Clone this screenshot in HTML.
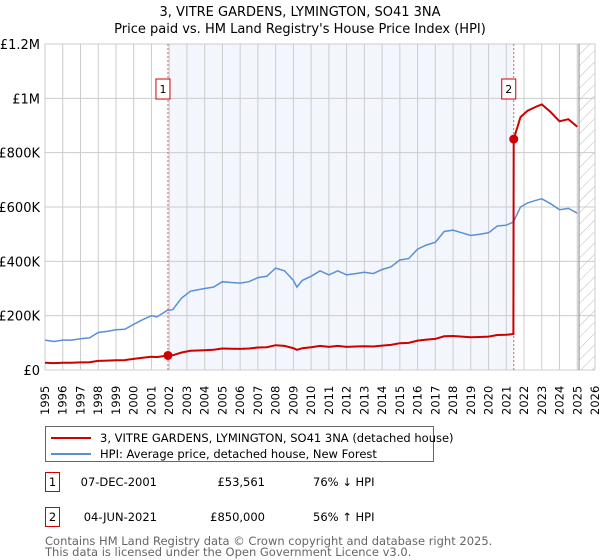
<!DOCTYPE html>
<html><head><meta charset="utf-8"><style>
body{margin:0;background:#fff;font-family:"Liberation Sans","DejaVu Sans",sans-serif;}
#wrap{position:relative;width:600px;height:560px;overflow:hidden}
svg text{font-family:"DejaVu Sans","Liberation Sans",sans-serif}
</style></head><body><div id="wrap">
<svg id="svg" width="600" height="560"></svg>
</div>
<script>
const hpiYears=[1995,1995.5,1996,1996.5,1997,1997.5,1998,1998.5,1999,1999.5,2000,2000.5,2001,2001.3,2001.9,2002.2,2002.7,2003.2,2004,2004.5,2005,2005.5,2006,2006.5,2007,2007.5,2008,2008.5,2009,2009.2,2009.5,2010,2010.5,2011,2011.5,2012,2012.5,2013,2013.5,2014,2014.5,2015,2015.5,2016,2016.5,2017,2017.5,2018,2018.5,2019,2019.5,2020,2020.5,2021,2021.4,2021.8,2022.2,2022.7,2023,2023.5,2024,2024.5,2025];
const hpiValues=[110,105,110,110,115,118,138,142,148,150,168,185,200,195,220,222,265,290,300,305,325,322,320,325,340,345,375,365,330,305,330,345,365,350,365,350,355,360,355,370,380,405,410,445,460,470,510,515,505,495,500,505,530,533,545,600,615,625,630,612,590,595,577];
const saleYears=[2001.93,2021.42];
const salePrices=[53561,850000];
const saleLabels=["1","2"];
const yTicks=[0,200000,400000,600000,800000,1000000,1200000];
const yTickLabels=["£0","£200K","£400K","£600K","£800K","£1M","£1.2M"];
const xTicks=[1995,1996,1997,1998,1999,2000,2001,2002,2003,2004,2005,2006,2007,2008,2009,2010,2011,2012,2013,2014,2015,2016,2017,2018,2019,2020,2021,2022,2023,2024,2025,2026];

const svg=document.getElementById('svg');const NS='http://www.w3.org/2000/svg';
const L=45,R=595,T=44,B=370;
const X=y=>L+(y-1995)/(2026-1995)*(R-L);
const Y=v=>B-v/1200000*(B-T);
function el(tag,attrs,parent){const e=document.createElementNS(NS,tag);for(const k in attrs)e.setAttribute(k,attrs[k]);(parent||svg).appendChild(e);return e;}
function hpiAt(t){for(let i=0;i<hpiYears.length-1;i++){if(t>=hpiYears[i]&&t<=hpiYears[i+1]){const f=(t-hpiYears[i])/(hpiYears[i+1]-hpiYears[i]);return (hpiValues[i]+f*(hpiValues[i+1]-hpiValues[i]))*1000;}}return hpiValues[hpiValues.length-1]*1000;}

let t=el('text',{x:300,y:16,'text-anchor':'middle','font-size':13,fill:'#000'});t.textContent='3, VITRE GARDENS, LYMINGTON, SO41 3NA';

t=el('text',{x:300,y:33,'text-anchor':'middle','font-size':13,fill:'#000'});t.textContent='Price paid vs. HM Land Registry\'s House Price Index (HPI)';


let band=el('rect',{x:X(saleYears[0]),y:T,width:X(saleYears[1])-X(saleYears[0]),height:B-T,fill:'#f3f6fd'});

const defs=el('defs',{});const pat=el('pattern',{id:'h',width:8,height:8,patternUnits:'userSpaceOnUse',patternTransform:'rotate(45)'},defs);
el('line',{x1:0,y1:0,x2:0,y2:8,stroke:'#bbb','stroke-width':1},pat);
let hatch=el('rect',{x:X(2025.1),y:T,width:R-X(2025.1),height:B-T,fill:'url(#h)'});

xTicks.forEach(v=>{const g=el('line',{x1:X(v),x2:X(v),y1:T,y2:B,stroke:'#ccc','stroke-width':1});
 const tx=el('text',{transform:`translate(${X(v)+4},${B+45}) rotate(-90)`,'font-size':11.5,fill:'#000'});tx.textContent=v;
 });
yTicks.forEach((v,i)=>{const g=el('line',{x1:L,x2:R,y1:Y(v),y2:Y(v),stroke:'#ccc','stroke-width':1});
 const tx=el('text',{x:L-5,y:Y(v)+5,'text-anchor':'end','font-size':13,fill:'#000'});tx.textContent=yTickLabels[i];
 });
el('line',{x1:X(2025.1),x2:X(2025.1),y1:T,y2:B,stroke:'#888','stroke-width':1});
saleYears.forEach((s,i)=>{const v=el('line',{x1:X(s),x2:X(s),y1:T,y2:B,stroke:'#e06060','stroke-width':1,'stroke-dasharray':'2,2'});
 
 const r=el('rect',{x:X(s)-12,y:79,width:14,height:20,fill:'#fff',stroke:'#c00','stroke-width':1});
 const tx=el('text',{x:X(s)-5,y:93,'text-anchor':'middle','font-size':11,fill:'#000'});tx.textContent=saleLabels[i];});
let d='';hpiYears.forEach((y,i)=>{d+=(i?'L':'M')+X(y).toFixed(1)+','+Y(hpiValues[i]*1000).toFixed(1);});
let p=el('path',{d:d,fill:'none',stroke:'#5b8fd4','stroke-width':1.5});
let pts=[];const r0=salePrices[0]/hpiAt(saleYears[0]),r1=salePrices[1]/hpiAt(saleYears[1]);
hpiYears.forEach((y,i)=>{if(y<saleYears[1])pts.push([y,hpiValues[i]*1000*r0]);});
pts.push([saleYears[1]-0.02,hpiAt(saleYears[1]-0.02)*r0]);pts.push([saleYears[1],salePrices[1]]);
hpiYears.forEach((y,i)=>{if(y>saleYears[1])pts.push([y,hpiValues[i]*1000*r1]);});
d='';pts.forEach((q,i)=>{d+=(i?'L':'M')+X(q[0]).toFixed(1)+','+Y(q[1]).toFixed(1);});
p=el('path',{d:d,fill:'none',stroke:'#cc0000','stroke-width':2});
saleYears.forEach((s,i)=>{const c=el('circle',{cx:X(s),cy:Y(salePrices[i]),r:4.5,fill:'#cc0000'});});
const lg=el('g',{});
el('rect',{x:45.5,y:426.5,width:388,height:35,fill:'#fff',stroke:'#666'},lg);
el('line',{x1:51,x2:91,y1:438,y2:438,stroke:'#cc0000','stroke-width':2},lg);
el('line',{x1:51,x2:91,y1:454,y2:454,stroke:'#5b8fd4','stroke-width':2},lg);
t=el('text',{x:100,y:442,'font-size':11.5},lg);t.textContent='3, VITRE GARDENS, LYMINGTON, SO41 3NA (detached house)';
t=el('text',{x:100,y:458,'font-size':11.5},lg);t.textContent='HPI: Average price, detached house, New Forest';
const rows=[["1","07-DEC-2001","£53,561","76% ↓ HPI"],["2","04-JUN-2021","£850,000","56% ↑ HPI"]];
rows.forEach((r,i)=>{const y=i?517:482;
 const b=el('rect',{x:45.5,y:y-9.5,width:14,height:19,fill:'#fff',stroke:'#c00'});
 let a=el('text',{x:52.5,y:y+4,'text-anchor':'middle','font-size':11.5});a.textContent=r[0];
 a=el('text',{x:157,y:y+4,'text-anchor':'end','font-size':11.5});a.textContent=r[1];
 a=el('text',{x:265,y:y+4,'text-anchor':'end','font-size':11.5});a.textContent=r[2];
 a=el('text',{x:313,y:y+4,'font-size':11.5});a.textContent=r[3];});
t=el('text',{x:45,y:545,'font-size':11.5,fill:'#666'});t.textContent='Contains HM Land Registry data © Crown copyright and database right 2025.';
t=el('text',{x:45,y:556,'font-size':11.5,fill:'#666'});t.textContent='This data is licensed under the Open Government Licence v3.0.';
</script></body></html>
